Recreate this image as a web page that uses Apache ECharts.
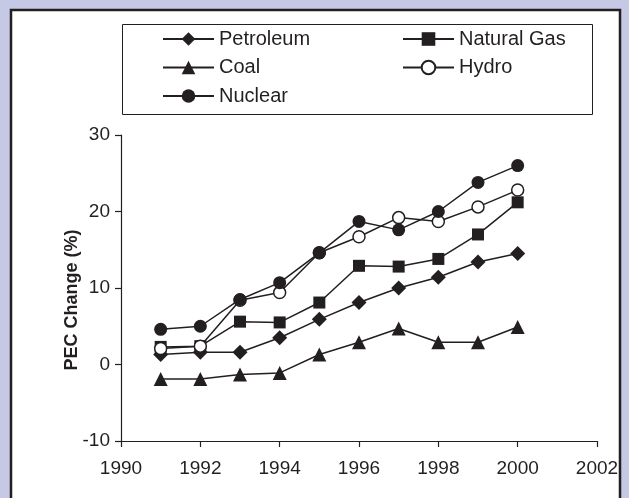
<!DOCTYPE html>
<html>
<head>
<meta charset="utf-8">
<script src="https://cdn.jsdelivr.net/npm/echarts@6/dist/echarts.min.js"></script>
<style>
  html, body { margin: 0; padding: 0; background: #c6c9e5; }
  #main { width: 629px; height: 498px; }
</style>
</head>
<body>
<div id="main"></div>
<script>
var chartDom = document.getElementById('main');
var myChart = echarts.init(chartDom);

// values (PEC change, %)
const years = [1991, 1992, 1993, 1994, 1995, 1996, 1997, 1998, 1999, 2000];
const petroleum = [1.3, 1.6, 1.6, 3.5, 5.9, 8.1, 10.0, 11.4, 13.4, 14.5];
const naturalGas = [2.3, 2.4, 5.6, 5.5, 8.1, 12.9, 12.8, 13.8, 17.0, 21.2];
const coal = [-1.9, -1.9, -1.3, -1.1, 1.3, 2.9, 4.7, 2.9, 2.9, 4.9];
const hydro = [2.1, 2.4, 8.4, 9.4, 14.6, 16.7, 19.2, 18.7, 20.6, 22.8];
const nuclear = [4.6, 5.0, 8.5, 10.7, 14.6, 18.7, 17.6, 20.0, 23.8, 26.0];

const ink = '#231f20';
const font = 'Liberation Sans, Arial, sans-serif';

function pairs(arr) {
  return years.map((y, i) => [y, arr[i]]);
}

function lineSeries(name, arr, symbol, size, fill) {
  return {
    name: name,
    type: 'line',
    data: pairs(arr),
    symbol: symbol,
    symbolSize: size,
    showAllSymbol: true,
    lineStyle: { color: ink, width: 1.5 },
    itemStyle: { color: fill || ink, borderColor: ink, borderWidth: fill ? 1.5 : 0 },
    emphasis: { disabled: true },
    animation: false,
  };
}

const legendText = { fontSize: 20, color: ink, fontFamily: font, lineHeight: 20 };

var option = {
  backgroundColor: '#c6c9e5',
  textStyle: { fontFamily: font },
  graphic: [
    {
      type: 'rect',
      z: -10,
      shape: { x: 11, y: 10, width: 609, height: 500 },
      style: { fill: '#ffffff', stroke: ink, lineWidth: 2.5 },
    },
    {
      type: 'rect',
      z: -5,
      shape: { x: 122.5, y: 24.5, width: 470, height: 90 },
      style: { fill: 'none', stroke: ink, lineWidth: 1 },
    },
  ],
  legend: [
    {
      data: ['Petroleum', 'Coal', 'Nuclear'],
      orient: 'vertical',
      left: 162,
      top: 29,
      itemWidth: 51,
      itemHeight: 17,
      itemGap: 8.5,
      padding: 0,
      selectedMode: false,
      textStyle: legendText,
    },
    {
      data: ['Natural Gas', 'Hydro'],
      orient: 'vertical',
      left: 402,
      top: 29,
      itemWidth: 51,
      itemHeight: 17,
      itemGap: 8.5,
      padding: 0,
      selectedMode: false,
      textStyle: legendText,
    },
  ],
  grid: { left: 121, right: 32, top: 135, bottom: 57, containLabel: false },
  xAxis: {
    type: 'value',
    min: 1990,
    max: 2002,
    interval: 2,
    axisLine: { show: true, onZero: false, lineStyle: { color: ink, width: 1.2 } },
    axisTick: { show: true, length: 6, lineStyle: { color: ink, width: 1.2 } },
    axisLabel: { fontSize: 19, color: ink, margin: 18, formatter: (v) => String(v) },
    splitLine: { show: false },
  },
  yAxis: {
    type: 'value',
    min: -10,
    max: 30,
    interval: 10,
    name: 'PEC Change (%)',
    nameLocation: 'middle',
    nameRotate: 90,
    nameGap: 40,
    nameMoveOverlap: false,
    nameTextStyle: { fontSize: 18, fontWeight: 'bold', color: ink, padding: [0, 24, 0, 0] },
    axisLine: { show: true, lineStyle: { color: ink, width: 1.2 } },
    axisTick: { show: true, length: 6, lineStyle: { color: ink, width: 1.2 } },
    axisLabel: { fontSize: 19, color: ink, margin: 11 },
    splitLine: { show: false },
  },
  series: [
    lineSeries('Petroleum', petroleum, 'diamond', 15),
    lineSeries('Natural Gas', naturalGas, 'rect', 12),
    lineSeries('Coal', coal, 'triangle', 14),
    lineSeries('Hydro', hydro, 'circle', 12, '#ffffff'),
    lineSeries('Nuclear', nuclear, 'circle', 13),
  ],
};

myChart.setOption(option);
</script>
</body>
</html>
